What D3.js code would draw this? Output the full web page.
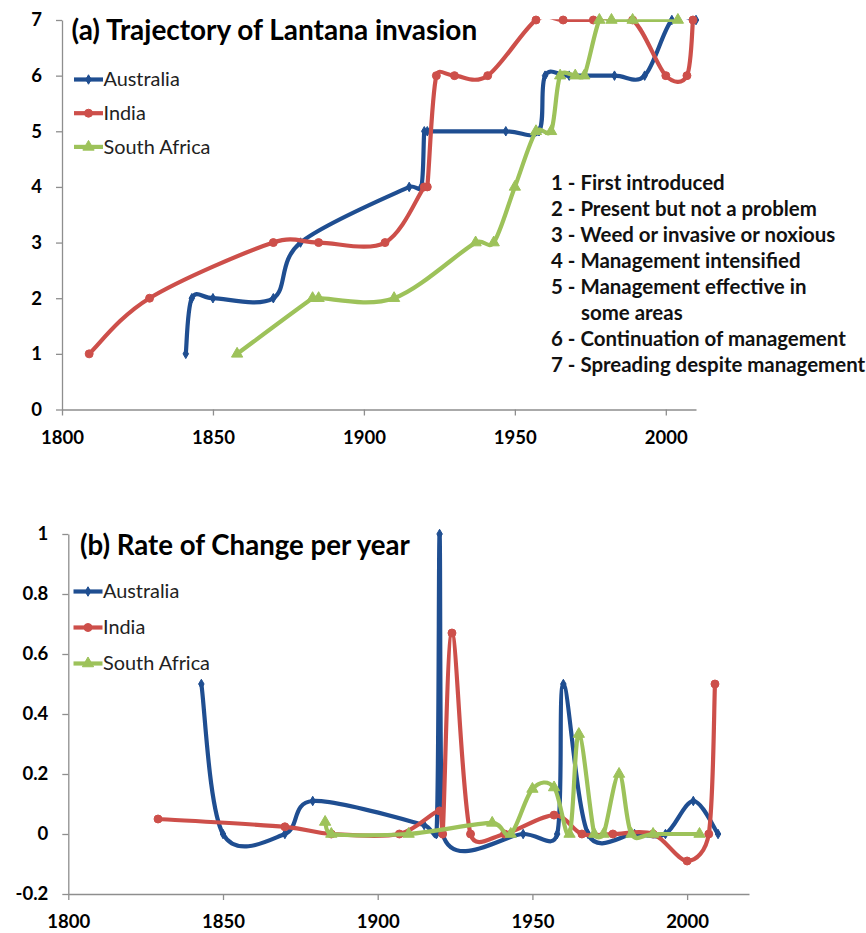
<!DOCTYPE html>
<html>
<head>
<meta charset="utf-8">
<script src="https://cdn.jsdelivr.net/npm/d3@7"></script>
<style>
  html, body { margin: 0; background: #fff; }
  svg { display: block; }
</style>
</head>
<body>
<svg id="chart" width="866" height="933"></svg>
<script>
// ---- data ----
const seriesNames = ["Australia", "India", "South Africa"];

// (a) stage of invasion over time
const ausYears = [1841, 1843, 1850, 1870, 1879, 1915, 1919, 1920, 1921, 1947, 1958, 1960, 1968, 1983, 1993, 2002, 2010];
const ausStage = [1, 2, 2, 2, 3, 4, 4, 5, 5, 5, 5, 6, 6, 6, 6, 7, 7];
const indYears = [1809, 1829, 1870, 1885, 1907, 1920, 1921, 1924, 1930, 1941, 1957, 1966, 1976, 1989, 2000, 2007, 2009];
const indStage = [1, 2, 3, 3, 3, 4, 4, 6, 6, 6, 7, 7, 7, 7, 6, 6, 7];
const safYears = [1858, 1883, 1885, 1910, 1937, 1943, 1950, 1957, 1962, 1965, 1970, 1973, 1978, 1982, 1989, 2004];
const safStage = [1, 2, 2, 2, 3, 3, 4, 5, 5, 6, 6, 6, 7, 7, 7, 7];

// (b) rate of change per year
const ausRateYears = [1843, 1850, 1870, 1879, 1915, 1919, 1920, 1921, 1947, 1958, 1960, 1968, 1983, 1993, 2002, 2010];
const ausRate = [0.5, 0, 0, 0.11, 0.03, 0, 1, 0, 0, 0, 0.5, 0, 0, 0, 0.11, 0];
const indRateYears = [1829, 1870, 1885, 1907, 1920, 1921, 1924, 1930, 1941, 1957, 1966, 1976, 1989, 2000, 2007, 2009];
const indRate = [0.05, 0.024, 0, 0, 0.077, 0, 0.67, 0, 0, 0.063, 0, 0, 0, -0.09, 0, 0.5];
const safRateYears = [1883, 1885, 1910, 1937, 1943, 1950, 1957, 1962, 1965, 1970, 1973, 1978, 1982, 1989, 2004];
const safRate = [0.04, 0, 0, 0.037, 0, 0.15, 0.155, 0, 0.333, 0, 0, 0.2, 0, 0, 0];

const yearTicks = [1800, 1850, 1900, 1950, 2000];
const stageTicks = [0, 1, 2, 3, 4, 5, 6, 7];
const rateTicks = [-0.2, 0, 0.2, 0.4, 0.6, 0.8, 1];
const rateTickLabels = ["-0.2", "0", "0.2", "0.4", "0.6", "0.8", "1"];

const stageNotes = [
  "1 - First introduced",
  "2 - Present but not a problem",
  "3 - Weed or invasive or noxious",
  "4 - Management intensified",
  "5 - Management effective in",
  "some areas",
  "6 - Continuation of management",
  "7 - Spreading despite management"
];

const COLORS = ["#1f4e91", "#cd4f4a", "#9dc25a"];
const SYMBOLS = [d3.symbolDiamond, d3.symbolCircle, d3.symbolTriangle];
const SYMSIZE = [26, 50, 55];
const FONT = "Lato, 'Noto Sans', sans-serif";
const AXIS = "#8e8e8e";

const svg = d3.select("#chart");

function fitFont(text, weight, width) {
  const t = svg.append("text").attr("font-family", FONT)
    .attr("font-weight", weight).attr("font-size", 100).text(text);
  const w = t.node().getComputedTextLength();
  t.remove();
  return 100 * width / w;
}

const tickSize = fitFont("1800", "bold", 43);
const legendSize = fitFont("South Africa", "normal", 107);
const noteSize = fitFont("6 - Continuation of management", "bold", 295);

// spreadsheet-style smoothed line: Catmull-Rom tangents, control arms kept
// inside each segment so short steps don't loop back
function ctrl(p, t, dx, len, sign) {
  let s = 1;
  const tl = Math.hypot(t[0], t[1]);
  if (tl > len / 2) s = Math.min(s, len / 2 / tl);
  if (Math.abs(t[0]) > dx) s = Math.min(s, dx / Math.abs(t[0]));
  return [p[0] + sign * s * t[0], p[1] + sign * s * t[1]];
}
function smoothPath(pts) {
  const n = pts.length, path = d3.path();
  const tan = pts.map((p, i) => {
    const a = pts[Math.max(i - 1, 0)], b = pts[Math.min(i + 1, n - 1)];
    return [(b[0] - a[0]) / 6, (b[1] - a[1]) / 6];
  });
  path.moveTo(pts[0][0], pts[0][1]);
  for (let i = 0; i < n - 1; i++) {
    const p = pts[i], q = pts[i + 1];
    const dx = q[0] - p[0], len = Math.hypot(dx, q[1] - p[1]);
    const c1 = ctrl(p, tan[i], dx, len, 1), c2 = ctrl(q, tan[i + 1], dx, len, -1);
    path.bezierCurveTo(c1[0], c1[1], c2[0], c2[1], q[0], q[1]);
  }
  return path.toString();
}

function drawPanel(p) {
  const x = d3.scaleLinear().domain(p.xDomain).range(p.xRange);
  const y = d3.scaleLinear().domain(p.yDomain).range(p.yRange);
  const g = svg.append("g");

  // axes
  g.append("g").attr("transform", `translate(0,${p.yRange[0]})`)
    .call(d3.axisBottom(x).tickValues(yearTicks).tickFormat(d3.format("d"))
      .tickSize(6).tickSizeOuter(0).tickPadding(15))
    .call(a => a.select(".domain").attr("stroke", AXIS).attr("stroke-width", 1.3))
    .call(a => a.selectAll("line").attr("stroke", AXIS).attr("stroke-width", 1.3))
    .call(a => a.selectAll("text").attr("fill", "#000").attr("font-family", FONT)
      .attr("font-weight", "bold").attr("font-size", tickSize));

  g.append("g").attr("transform", `translate(${p.xRange[0]},0)`)
    .call(d3.axisLeft(y).tickValues(p.yTicks).tickFormat((d, i) => p.yLabels[i])
      .tickSize(6).tickSizeOuter(0).tickPadding(14))
    .call(a => a.select(".domain").attr("stroke", AXIS).attr("stroke-width", 1.3))
    .call(a => a.selectAll("line").attr("stroke", AXIS).attr("stroke-width", 1.3))
    .call(a => a.selectAll("text").attr("fill", "#000").attr("font-family", FONT)
      .attr("font-weight", "bold").attr("font-size", tickSize));

  // clip lines to plot area (markers are not clipped)
  const clipId = "clip-" + p.id;
  svg.append("defs").append("clipPath").attr("id", clipId)
    .append("rect")
    .attr("x", p.xRange[0]).attr("y", p.yRange[1] - 0.8)
    .attr("width", p.xRange[1] - p.xRange[0] + 10)
    .attr("height", p.yRange[0] - p.yRange[1] + 0.8);

  p.series.forEach((s, i) => {
    const pts = s.years.map((yr, k) => [yr, s.vals[k]]);
    g.append("path")
      .attr("fill", "none").attr("stroke", COLORS[i])
      .attr("stroke-width", 4.2).attr("stroke-linejoin", "round")
      .attr("clip-path", `url(#${clipId})`)
      .attr("d", smoothPath(pts.map(d => [x(d[0]), y(d[1])])));
    g.selectAll(null).data(pts).enter().append("path")
      .attr("transform", d => `translate(${x(d[0])},${y(d[1])})`)
      .attr("d", d3.symbol(SYMBOLS[i], SYMSIZE[i]))
      .attr("fill", COLORS[i]).attr("stroke", COLORS[i]).attr("stroke-width", 1);
  });

  // title
  const tSize = fitFont(p.title, "bold", p.titleWidth);
  g.append("text").attr("x", p.titleX).attr("y", p.titleY)
    .attr("font-family", FONT).attr("font-weight", "bold")
    .attr("font-size", tSize).attr("fill", "#000").text(p.title);

  // legend
  seriesNames.forEach((name, i) => {
    const ly = p.legendY + i * p.legendStep;
    const lg = g.append("g");
    lg.append("line").attr("x1", p.legendX).attr("x2", p.legendX + 29)
      .attr("y1", ly).attr("y2", ly)
      .attr("stroke", COLORS[i]).attr("stroke-width", 4.2);
    lg.append("path").attr("transform", `translate(${p.legendX + 14.5},${ly})`)
      .attr("d", d3.symbol(SYMBOLS[i], SYMSIZE[i]))
      .attr("fill", COLORS[i]).attr("stroke", COLORS[i]);
    lg.append("text").attr("x", p.legendX + 29.5).attr("y", ly + legendSize * 0.34)
      .attr("font-family", FONT).attr("font-size", legendSize)
      .attr("fill", "#222").text(name);
  });
  return g;
}

const panelA = drawPanel({
  id: "a",
  xDomain: [1800, 2010], xRange: [62, 696],
  yDomain: [0, 7], yRange: [409.5, 20],
  yTicks: stageTicks, yLabels: stageTicks.map(String),
  series: [
    { years: ausYears, vals: ausStage },
    { years: indYears, vals: indStage },
    { years: safYears, vals: safStage }
  ],
  title: "(a) Trajectory of Lantana invasion", titleX: 71.5, titleY: 39.5, titleWidth: 406,
  legendX: 74, legendY: 79.5, legendStep: 33.7
});

// stage key
const noteY = [190, 216, 242, 268, 294, 320, 346, 372];
panelA.append("g").selectAll("text").data(stageNotes).enter().append("text")
  .attr("x", (d, i) => i === 5 ? 581 : 551)
  .attr("y", (d, i) => noteY[i])
  .attr("font-family", FONT).attr("font-weight", "bold")
  .attr("font-size", noteSize).attr("fill", "#111")
  .text(d => d);

drawPanel({
  id: "b",
  xDomain: [1800, 2020], xRange: [68.3, 749],
  yDomain: [-0.2, 1], yRange: [894, 534],
  yTicks: rateTicks, yLabels: rateTickLabels,
  series: [
    { years: ausRateYears, vals: ausRate },
    { years: indRateYears, vals: indRate },
    { years: safRateYears, vals: safRate }
  ],
  title: "(b) Rate of Change per year", titleX: 80, titleY: 554.5, titleWidth: 330,
  legendX: 73.5, legendY: 591.5, legendStep: 36
});
</script>
</body>
</html>
